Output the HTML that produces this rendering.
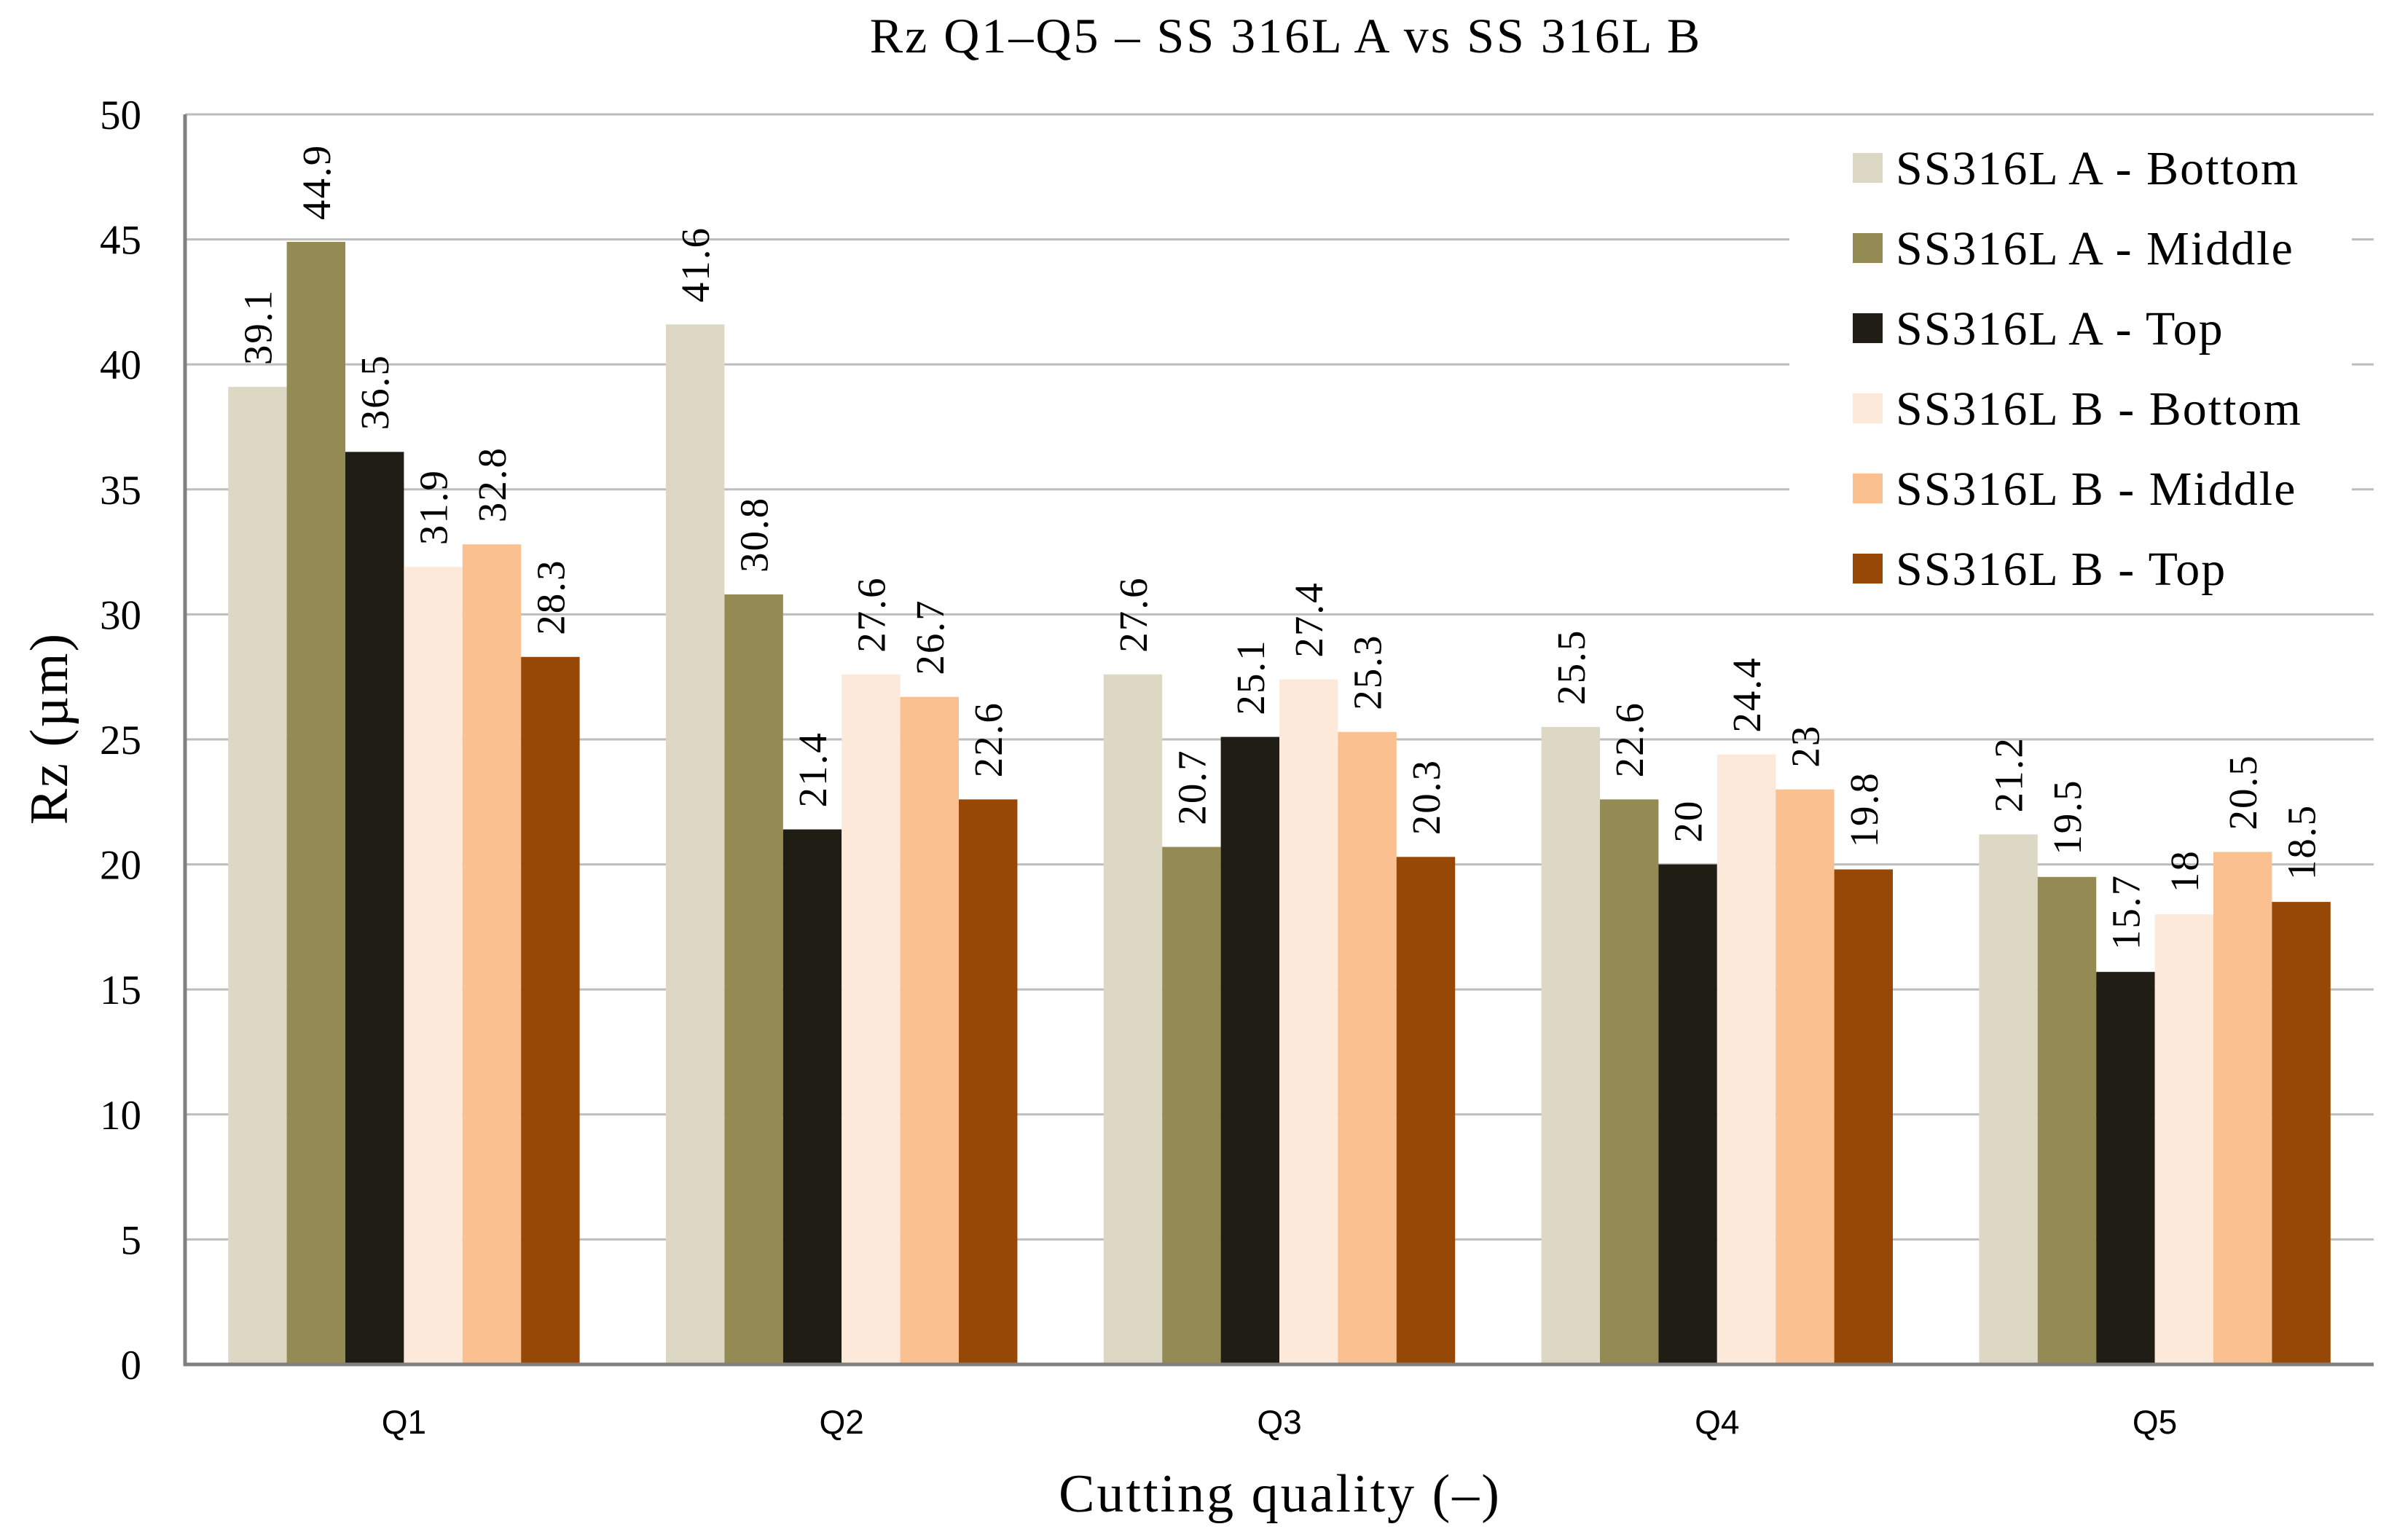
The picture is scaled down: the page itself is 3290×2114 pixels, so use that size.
<!DOCTYPE html>
<html><head><meta charset="utf-8"><style>
html,body{margin:0;padding:0;background:#fff;}
svg{display:block;}
</style></head><body>
<svg id="chart" width="3290" height="2114" xmlns="http://www.w3.org/2000/svg">
<text x="1765" y="72" text-anchor="middle" font-family="Liberation Serif, serif" font-size="68" letter-spacing="3">Rz Q1–Q5 – SS 316L A vs SS 316L B</text>
<text transform="translate(92,1000) rotate(-90)" text-anchor="middle" font-family="Liberation Serif, serif" font-size="74" letter-spacing="2">Rz (µm)</text>
<text x="1757" y="2075" text-anchor="middle" font-family="Liberation Serif, serif" font-size="74" letter-spacing="3">Cutting quality (–)</text>
<g id="grid"></g><g id="bars"></g><g id="labels"></g><g id="axes"></g><g id="legend"></g>
</svg>
<script>
const categories = ["Q1","Q2","Q3","Q4","Q5"];
const seriesNames = ["SS316L A - Bottom","SS316L A - Middle","SS316L A - Top","SS316L B - Bottom","SS316L B - Middle","SS316L B - Top"];
const aBottom = [39.1,41.6,27.6,25.5,21.2];
const aMiddle = [44.9,30.8,20.7,22.6,19.5];
const aTop = [36.5,21.4,25.1,20,15.7];
const bBottom = [31.9,27.6,27.4,24.4,18];
const bMiddle = [32.8,26.7,25.3,23,20.5];
const bTop = [28.3,22.6,20.3,19.8,18.5];
const yTicks = [0,5,10,15,20,25,30,35,40,45,50];
const colors = ["#DDD8C4","#948A54","#1F1D14","#FDE9D9","#FAC090","#974706"];
const series = [aBottom,aMiddle,aTop,bBottom,bMiddle,bTop];

const NS="http://www.w3.org/2000/svg";
const X0=254, X1=3258, Y0=1873, Ytop=157, yMax=50;
const catW=(X1-X0)/categories.length, barW=80.4, groupPad=(catW-6*barW)/2;
function y(v){return Y0-(v/yMax)*(Y0-Ytop);}
function mk(tag,attrs,parent){const e=document.createElementNS(NS,tag);for(const k in attrs)e.setAttribute(k,attrs[k]);parent.appendChild(e);return e;}
const grid=document.getElementById('grid'),bars=document.getElementById('bars'),labels=document.getElementById('labels'),axes=document.getElementById('axes'),legend=document.getElementById('legend');
yTicks.forEach(t=>{
  if(t>0){const l=mk('line',{x1:X0,x2:X1,y1:y(t),y2:y(t),stroke:'#BDBDBD','stroke-width':3},grid);
  
  }
  const tx=mk('text',{x:194,y:y(t)+20,'text-anchor':'end','font-family':'Liberation Serif, serif','font-size':57},axes);
  tx.textContent=t;
  
  
});
categories.forEach((c,i)=>{
  const cx=X0+catW*(i+0.5);
  const tx=mk('text',{x:cx,y:1968,'text-anchor':'middle','font-family':'Liberation Sans, sans-serif','font-size':46},axes);
  tx.textContent=c;
  
  
  series.forEach((s,j)=>{
    const bx=X0+catW*i+groupPad+j*barW;
    const r=mk('rect',{x:bx,y:y(s[i]),width:barW,height:Y0-y(s[i]),fill:colors[j]},bars);
    
    
    const lx=bx+barW/2+19, ly=y(s[i])-30;
    const t=mk('text',{x:lx,y:ly,transform:`rotate(-90 ${lx} ${ly})`,'font-family':'Liberation Serif, serif','font-size':55,'letter-spacing':2},labels);
    t.textContent=String(s[i]);
    
    
  });
});
const ya=mk('line',{x1:X0,x2:X0,y1:Ytop,y2:Y0+2,stroke:'#808080','stroke-width':5},axes);


const xa=mk('line',{x1:X0-2,x2:X1,y1:Y0,y2:Y0,stroke:'#808080','stroke-width':5},axes);


const lb=mk('rect',{x:2456,y:180,width:772,height:650,fill:'#fff'},legend);


seriesNames.forEach((n,j)=>{
  const cy=230+j*110;
  const sw=mk('rect',{x:2543,y:cy-20,width:41,height:41,fill:colors[j]},legend);
  
  
  const t=mk('text',{x:2602,y:cy+23,'font-family':'Liberation Serif, serif','font-size':66,'letter-spacing':2},legend);
  t.textContent=n;
  
  
});
</script>
</body></html>
